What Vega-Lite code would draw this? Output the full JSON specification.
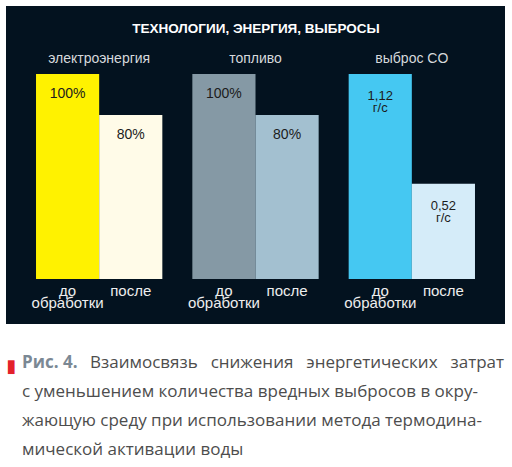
{
  "$schema": "https://vega.github.io/schema/vega-lite/v6.json",
  "width": 499,
  "height": 318,
  "autosize": {"type": "none"},
  "padding": {"left": 6, "top": 6, "right": 7, "bottom": 143},
  "background": "white",
  "config": {"view": {"fill": "#03121f", "stroke": null}},
  "title": {
    "text": "Рис. 4.",
    "subtitle": [
      "\u200b\u2003\u2003\u2003\u2003Взаимосвязь\u2002 снижения\u2002 энергетических\u2002 затрат",
      "с уменьшением количества вредных выбросов в окру-",
      "жающую среду при использовании метода термодина-",
      "мической активации воды"
    ],
    "orient": "bottom",
    "anchor": "start",
    "frame": "group",
    "offset": -20,
    "dx": 16,
    "font": "Open Sans",
    "fontSize": 17,
    "fontWeight": "bold",
    "color": "#7b8894",
    "subtitleFont": "Open Sans",
    "subtitleFontSize": 17,
    "subtitleColor": "#4d4d4d",
    "subtitleLineHeight": 29,
    "subtitlePadding": -17
  },
  "data": {
    "values": [
      {"group": "электроэнергия", "stage": "до обработки", "value": 100, "unit": "%", "label": "100%"},
      {"group": "электроэнергия", "stage": "после", "value": 80, "unit": "%", "label": "80%"},
      {"group": "топливо", "stage": "до обработки", "value": 100, "unit": "%", "label": "100%"},
      {"group": "топливо", "stage": "после", "value": 80, "unit": "%", "label": "80%"},
      {"group": "выброс CO", "stage": "до обработки", "value": 1.12, "unit": "г/с", "label": "1,12\nг/с"},
      {"group": "выброс CO", "stage": "после", "value": 0.52, "unit": "г/с", "label": "0,52\nг/с"}
    ]
  },
  "transform": [{"calculate": "datum.group + ' ' + datum.stage", "as": "key"}],
  "encoding": {
    "x": {
      "field": "group",
      "type": "nominal",
      "scale": {"domain": ["электроэнергия", "топливо", "выброс CO"], "paddingInner": 0.192, "paddingOuter": 0.192},
      "axis": {
        "orient": "top",
        "offset": -56,
        "domain": false,
        "ticks": false,
        "tickSize": 0,
        "labelPadding": 0,
        "labelAngle": 0,
        "labelBaseline": "alphabetic",
        "labelFont": "Liberation Sans",
        "labelFontSize": 14,
        "labelColor": "#d6d9dc",
        "title": "ТЕХНОЛОГИИ, ЭНЕРГИЯ, ВЫБРОСЫ",
        "titleFont": "Liberation Sans",
        "titleFontSize": 13.5,
        "titleFontWeight": "bold",
        "titleColor": "white",
        "titleBaseline": "alphabetic",
        "titleY": -30
      }
    },
    "xOffset": {
      "field": "stage",
      "type": "nominal",
      "scale": {"domain": ["до обработки", "после"], "paddingInner": 0, "paddingOuter": 0}
    }
  },
  "layer": [
    {
      "encoding": {
        "y": {
          "field": "value",
          "type": "quantitative",
          "scale": {"domain": [-21.95, 133.17], "nice": false, "zero": false},
          "axis": {
            "domain": false,
            "ticks": false,
            "labels": false,
            "grid": false,
            "title": "▮",
            "titleColor": "#e3212b",
            "titleFont": "DejaVu Sans",
            "titleFontSize": 18,
            "titleAngle": 0,
            "titleAlign": "left",
            "titleBaseline": "alphabetic",
            "titleX": 0,
            "titleY": 365
          }
        }
      },
      "layer": [
        {
          "transform": [{"filter": "datum.unit === '%'"}],
          "mark": {"type": "bar"},
          "encoding": {
            "y2": {"datum": 0},
            "color": {
              "field": "key",
              "type": "nominal",
              "legend": null,
              "scale": {
                "domain": [
                  "электроэнергия до обработки", "электроэнергия после",
                  "топливо до обработки", "топливо после",
                  "выброс CO до обработки", "выброс CO после"
                ],
                "range": ["#fff200", "#fffbe8", "#8599a5", "#a3c0d0", "#45c8f2", "#d5ecf9"]
              }
            }
          }
        },
        {
          "transform": [{"filter": "datum.unit === '%'"}],
          "mark": {"type": "text", "font": "Liberation Sans", "fontSize": 14, "color": "#1c1c1c", "baseline": "alphabetic", "dy": 24},
          "encoding": {"text": {"field": "label"}}
        },
        {
          "mark": {"type": "text", "font": "Liberation Sans", "fontSize": 15, "color": "#eeeeee", "baseline": "alphabetic", "dy": 17, "lineBreak": " ", "lineHeight": 12},
          "encoding": {"y": {"datum": 0}, "text": {"field": "stage"}}
        }
      ]
    },
    {
      "transform": [{"filter": "datum.unit === 'г/с'"}],
      "encoding": {
        "y": {
          "field": "value",
          "type": "quantitative",
          "scale": {"domain": [-0.2458, 1.4915], "nice": false, "zero": false},
          "axis": null
        }
      },
      "layer": [
        {
          "mark": {"type": "bar"},
          "encoding": {
            "y2": {"datum": 0},
            "color": {"field": "key", "type": "nominal", "legend": null}
          }
        },
        {
          "mark": {"type": "text", "font": "Liberation Sans", "fontSize": 13, "color": "#1c1c1c", "baseline": "alphabetic", "dy": 26, "lineBreak": "\n", "lineHeight": 12},
          "encoding": {"text": {"field": "label"}}
        }
      ]
    }
  ],
  "resolve": {"scale": {"y": "independent"}, "axis": {"y": "independent"}}
}
